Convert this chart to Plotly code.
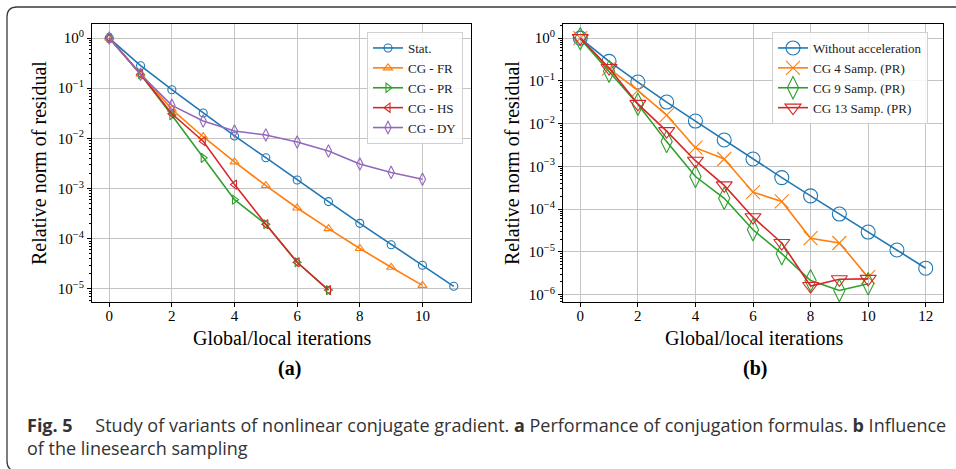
import plotly.graph_objects as go

W, H = 956, 469

# ---- data: panel (a), conjugation formulas ----
iters_stat = list(range(12))
stat = [1.0, 0.281, 0.0935, 0.032, 0.0112, 0.00413, 0.00148, 0.00055, 0.000203, 7.6e-5, 2.96e-5, 1.13e-5]
iters_fr = list(range(11))
cg_fr = [1.0, 0.19, 0.038, 0.0108, 0.0034, 0.00115, 0.00041, 0.000159, 6.4e-5, 2.7e-5, 1.18e-5]
iters_pr = list(range(8))
cg_pr = [1.0, 0.19, 0.029, 0.0041, 0.0006, 0.000195, 3.4e-5, 9.5e-6]
iters_hs = list(range(8))
cg_hs = [1.0, 0.19, 0.031, 0.0088, 0.0012, 0.000195, 3.4e-5, 9.5e-6]
iters_dy = list(range(11))
cg_dy = [1.0, 0.19, 0.0455, 0.0222, 0.014, 0.0117, 0.0085, 0.0056, 0.0031, 0.0021, 0.00153]

# ---- data: panel (b), linesearch sampling ----
iters_noacc = list(range(13))
no_acc = [1.0, 0.286, 0.094, 0.032, 0.0115, 0.00414, 0.00149, 0.000548, 0.000205, 7.7e-5, 2.92e-5, 1.11e-5, 4.17e-6]
iters_s = list(range(11))
samp4 = [1.0, 0.193, 0.06, 0.0158, 0.00274, 0.00149, 0.00025, 0.000152, 2.1e-5, 1.62e-5, 2.57e-6]
samp9 = [0.97, 0.167, 0.0285, 0.0038, 0.00058, 0.00018, 3.3e-5, 9.1e-6, 2.14e-6, 1.26e-6, 1.8e-6]
samp13 = [1.0, 0.2, 0.029, 0.0067, 0.00136, 0.00036, 6.5e-5, 1.62e-5, 1.6e-6, 2.3e-6, 2.35e-6]

BLUE, ORANGE, GREEN, RED, PURPLE = "#1f77b4", "#ff7f0e", "#2ca02c", "#d62728", "#9467bd"
SERIF = "Liberation Serif, Times New Roman, serif"
SANS = "Open Sans, Noto Sans, sans-serif"


def px_x(p):
    return p / W


def px_y(p):
    return 1 - p / H


fig = go.Figure()


def add(x, y, name, color, symbol, size, xa, ya, legend):
    fig.add_trace(go.Scatter(
        x=x, y=y, name=name, mode="lines+markers",
        line=dict(color=color, width=1.6),
        marker=dict(symbol=symbol, size=size, color=color,
                    line=dict(color=color, width=1.1)),
        xaxis=xa, yaxis=ya, legend=legend,
    ))


add(iters_stat, stat, "Stat.", BLUE, "circle-open", 8, "x", "y", "legend")
add(iters_fr, cg_fr, "CG - FR", ORANGE, "triangle-up-open", 8, "x", "y", "legend")
add(iters_pr, cg_pr, "CG - PR", GREEN, "triangle-right-open", 8, "x", "y", "legend")
add(iters_hs, cg_hs, "CG - HS", RED, "triangle-left-open", 8, "x", "y", "legend")
add(iters_dy, cg_dy, "CG - DY", PURPLE, "diamond-tall-open", 9, "x", "y", "legend")

add(iters_noacc, no_acc, "Without acceleration", BLUE, "circle-open", 14, "x2", "y2", "legend2")
add(iters_s, samp4, "CG 4 Samp. (PR)", ORANGE, "x-thin-open", 14, "x2", "y2", "legend2")
add(iters_s, samp9, "CG 9 Samp. (PR)", GREEN, "diamond-tall-open", 16, "x2", "y2", "legend2")
add(iters_s, samp13, "CG 13 Samp. (PR)", RED, "triangle-down-open", 14, "x2", "y2", "legend2")


def sup(k):
    s = str(k).replace("-", "\u2212")
    return f"10<sup>{s}</sup>"


def minor_vals(lo, hi):
    return [m * 10.0 ** k for k in range(lo, hi) for m in range(2, 10)]


grid = "#c4c4c4"
xcommon = dict(showline=True, linecolor="black", linewidth=1, mirror=True,
               ticks="outside", ticklen=4, tickcolor="black", showgrid=True,
               gridcolor=grid, gridwidth=1.1, zeroline=False,
               tickfont=dict(family=SERIF, size=15, color="black"))
ycommon = dict(xcommon, type="log")

yA_exp = [0, -1, -2, -3, -4, -5]
yB_exp = [0, -1, -2, -3, -4, -5, -6]

fig.update_layout(
    width=W, height=H, margin=dict(l=0, r=0, t=0, b=0),
    paper_bgcolor="white", plot_bgcolor="white", showlegend=True,
    xaxis=dict(xcommon, domain=[px_x(92), px_x(471)], range=[-0.55, 11.55],
               tickvals=[0, 2, 4, 6, 8, 10], ticklabelstandoff=-4, anchor="y"),
    yaxis=dict(ycommon, domain=[px_y(302), px_y(24)], range=[-5.26, 0.28],
               tickvals=[10.0 ** k for k in yA_exp], ticktext=[sup(k) for k in yA_exp],
               minor=dict(tickvals=minor_vals(-6, 1), ticks="outside", ticklen=2,
                          tickcolor="black", showgrid=False),
               anchor="x"),
    xaxis2=dict(xcommon, domain=[px_x(563), px_x(943)], range=[-0.6, 12.6],
                tickvals=[0, 2, 4, 6, 8, 10, 12], ticklabelstandoff=-4, anchor="y2"),
    yaxis2=dict(ycommon, domain=[px_y(302), px_y(24)], range=[-6.17, 0.33],
                tickvals=[10.0 ** k for k in yB_exp], ticktext=[sup(k) for k in yB_exp],
                minor=dict(tickvals=minor_vals(-7, 1), ticks="outside", ticklen=2,
                           tickcolor="black", showgrid=False),
                anchor="x2"),
    legend=dict(x=px_x(367), y=px_y(32), xanchor="left", yanchor="top",
                bgcolor="rgba(255,255,255,0.85)", bordercolor="#d0d0d0", borderwidth=1,
                font=dict(family=SERIF, size=13, color="#222"), itemwidth=30,
                tracegroupgap=0),
    legend2=dict(x=px_x(772), y=px_y(32), xanchor="left", yanchor="top",
                 bgcolor="rgba(255,255,255,0.85)", bordercolor="#d0d0d0", borderwidth=1,
                 font=dict(family=SERIF, size=13, color="#222"), itemwidth=30,
                 tracegroupgap=0),
)

ann = []


def text(x, y, s, size, family=SERIF, angle=0, xanchor="center", color="black"):
    ann.append(dict(x=px_x(x), y=px_y(y), xref="paper", yref="paper", text=s,
                    showarrow=False, textangle=angle, xanchor=xanchor, yanchor="middle",
                    font=dict(family=family, size=size, color=color)))


# axis titles and panel labels
text(39, 163, "Relative norm of residual", 20, angle=-90)
text(512, 163, "Relative norm of residual", 20, angle=-90)
text(282, 338, "Global/local iterations", 20)
text(754, 338, "Global/local iterations", 20)
text(289, 368, "<b>(a)</b>", 20)
text(755, 368, "<b>(b)</b>", 20)

# figure caption
text(25, 425, "<b>Fig. 5</b>\u2003 Study of variants of nonlinear conjugate gradient. "
              "<b>a</b> Performance of conjugation formulas. <b>b</b> Influence",
     18, family=SANS, xanchor="left", color="#333")
text(25, 448, "of the linesearch sampling", 18, family=SANS, xanchor="left", color="#333")
fig.update_layout(annotations=ann)

# rounded frame around the figure
r = 10
frame = (f"M {px_x(7 + r)},{px_y(471)} Q {px_x(7)},{px_y(471)} {px_x(7)},{px_y(471 - r)} "
         f"L {px_x(7)},{px_y(7 + r)} Q {px_x(7)},{px_y(7)} {px_x(7 + r)},{px_y(7)} "
         f"L {px_x(970)},{px_y(7)}")
fig.add_shape(type="path", path=frame, xref="paper", yref="paper",
              line=dict(color="#3a3a3a", width=1.3))

fig.write_html("out.html")
